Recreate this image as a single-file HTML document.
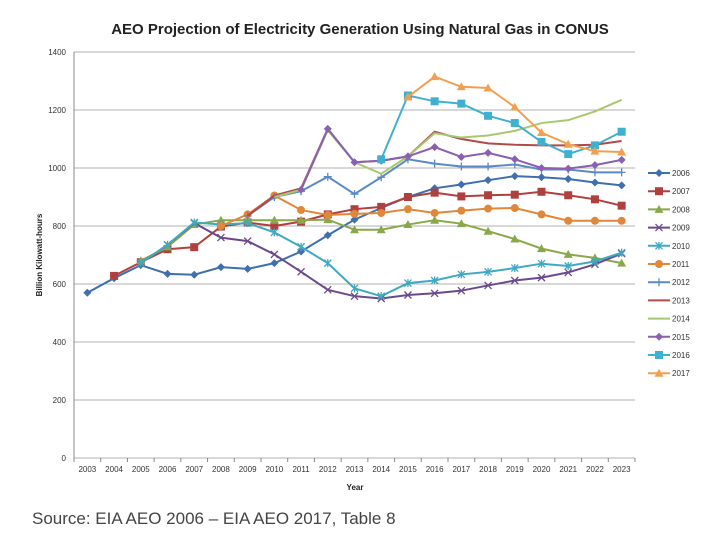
<!DOCTYPE html>
<html><head><meta charset="utf-8"><style>
body{margin:0;background:#fff;width:720px;height:540px;overflow:hidden;font-family:"Liberation Sans",sans-serif}
</style></head><body>
<svg id="c" width="720" height="540"></svg>
<script>
const years=[2003,2004,2005,2006,2007,2008,2009,2010,2011,2012,2013,2014,2015,2016,2017,2018,2019,2020,2021,2022,2023];
const seriesNames=['2006','2007','2008','2009','2010','2011','2012','2013','2014','2015','2016','2017'];
const seriesStart=[2003,2004,2005,2005,2005,2008,2009,2009,2010,2011,2014,2015];
const s2006=[570,620,665,635,632,658,652,672,712,768,822,862,900,930,943,958,972,968,962,950,940];
const s2007=[628,675,720,727,798,812,800,815,840,858,866,900,915,902,906,908,918,906,892,870];
const s2008=[680,728,805,820,820,820,820,822,787,787,805,820,808,782,755,722,702,690,672];
const s2009=[672,735,810,760,748,702,642,580,558,550,562,568,577,595,612,622,640,668,705];
const s2010=[672,735,812,805,810,778,728,672,585,558,603,612,633,642,655,670,662,678,708];
const s2011=[800,840,905,855,838,842,845,858,845,853,860,862,840,818,818,818];
const s2012=[835,900,920,970,910,968,1030,1015,1005,1005,1012,995,995,985,985];
const s2013=[835,905,930,1135,1020,1025,1040,1125,1100,1085,1080,1078,1078,1080,1093];
const s2014=[900,925,1130,1020,980,1040,1120,1105,1112,1128,1155,1165,1195,1235];
const s2015=[925,1135,1020,1025,1040,1072,1038,1052,1030,1000,998,1010,1028];
const s2016=[1030,1250,1230,1222,1180,1155,1090,1048,1078,1125];
const s2017=[1245,1315,1280,1276,1210,1122,1082,1058,1055];
const seriesValues=[s2006,s2007,s2008,s2009,s2010,s2011,s2012,s2013,s2014,s2015,s2016,s2017];
const yTicks=[0,200,400,600,800,1000,1200,1400];

const colors=['#3f6fae','#b0403e','#8aa84a','#6a4a8a','#3fa9c2','#e0873a','#5a8ac6','#b04a48','#a8c870','#8a60b0','#40b0d0','#f2a050'];
const markers=['diamond','square','triangle','x','star','circle','plus','none','none','diamond','square','triangle'];
const svg=document.getElementById('c');const NS='http://www.w3.org/2000/svg';
const L=74,R=635,T=52,B=458;
const cw=(R-L)/years.length;
const x=yr=>L+(years.indexOf(yr)+0.5)*cw;
const y=v=>B-(v/1400)*(B-T);
function mk(t,a,p){const e=document.createElementNS(NS,t);for(const k in a)e.setAttribute(k,a[k]);(p||svg).appendChild(e);return e;}
function tx(s,a){const e=mk('text',a);e.textContent=s;return e;}
const title=tx('AEO Projection of Electricity Generation Using Natural Gas in CONUS',{x:360,y:34,'text-anchor':'middle','font-size':15,'font-weight':'bold',fill:'#222'});

yTicks.forEach(v=>{
 const g=mk('line',{x1:L,x2:R,y1:y(v),y2:y(v),stroke:'#b0b0b0','stroke-width':1});
 
 const t=tx(String(v),{x:L-8,y:y(v)+3,'text-anchor':'end','font-size':8,fill:'#333'});
 
});
mk('line',{x1:L,x2:L,y1:T,y2:B,stroke:'#888'});
years.forEach((yr,i)=>{
 mk('line',{x1:L+i*cw,x2:L+i*cw,y1:B,y2:B+4,stroke:'#888'});
 const t=tx(String(yr),{x:x(yr),y:B+14,'text-anchor':'middle','font-size':8,fill:'#333'});
 
});
mk('line',{x1:R,x2:R,y1:B,y2:B+4,stroke:'#888'});
const xt=tx('Year',{x:355,y:490,'text-anchor':'middle','font-size':8,'font-weight':'bold',fill:'#222'});

const yt=tx('Billion Kilowatt-hours',{x:0,y:0,'text-anchor':'middle','font-size':8,'font-weight':'bold',fill:'#222',transform:'translate(42,255) rotate(-90)'});

function marker(type,cx,cy,c,p){
 const s=4;
 if(type==='diamond')mk('polygon',{points:`${cx},${cy-s} ${cx+s},${cy} ${cx},${cy+s} ${cx-s},${cy}`,fill:c},p);
 else if(type==='square')mk('rect',{x:cx-4,y:cy-4,width:8,height:8,fill:c},p);
 else if(type==='triangle')mk('polygon',{points:`${cx},${cy-4.5} ${cx+4.5},${cy+3.5} ${cx-4.5},${cy+3.5}`,fill:c},p);
 else if(type==='circle')mk('circle',{cx,cy,r:4,fill:c},p);
 else if(type==='x')mk('path',{d:`M${cx-3.5} ${cy-3.5}L${cx+3.5} ${cy+3.5}M${cx-3.5} ${cy+3.5}L${cx+3.5} ${cy-3.5}`,stroke:c,'stroke-width':1.3},p);
 else if(type==='star')mk('path',{d:`M${cx-3.5} ${cy-3.5}L${cx+3.5} ${cy+3.5}M${cx-3.5} ${cy+3.5}L${cx+3.5} ${cy-3.5}M${cx} ${cy-4}L${cx} ${cy+4}`,stroke:c,'stroke-width':1.3},p);
 else if(type==='plus')mk('path',{d:`M${cx-4} ${cy}L${cx+4} ${cy}M${cx} ${cy-4}L${cx} ${cy+4}`,stroke:c,'stroke-width':1.3},p);
}
seriesValues.forEach((vals,si)=>{
 const g=mk('g',{});
 
 
 const i0=years.indexOf(seriesStart[si]);
 const pts=vals.map((v,k)=>[x(years[i0+k]),y(v)]);
 mk('polyline',{points:pts.map(p=>p.join(',')).join(' '),fill:'none',stroke:colors[si],'stroke-width':2},g);
 pts.forEach(p=>marker(markers[si],p[0],p[1],colors[si],g));
 const ly=173+si*18.2;
 const lg=mk('g',{});
 
 
 mk('line',{x1:648,x2:670,y1:ly,y2:ly,stroke:colors[si],'stroke-width':2},lg);
 marker(markers[si],659,ly,colors[si],lg);
 const t=mk('text',{x:672,y:ly+3,'font-size':8,fill:'#333'},lg);t.textContent=seriesNames[si];
});
const src=tx('Source: EIA AEO 2006 – EIA AEO 2017, Table 8',{x:32,y:524,'font-size':17,fill:'#444'});

</script>
</body></html>
